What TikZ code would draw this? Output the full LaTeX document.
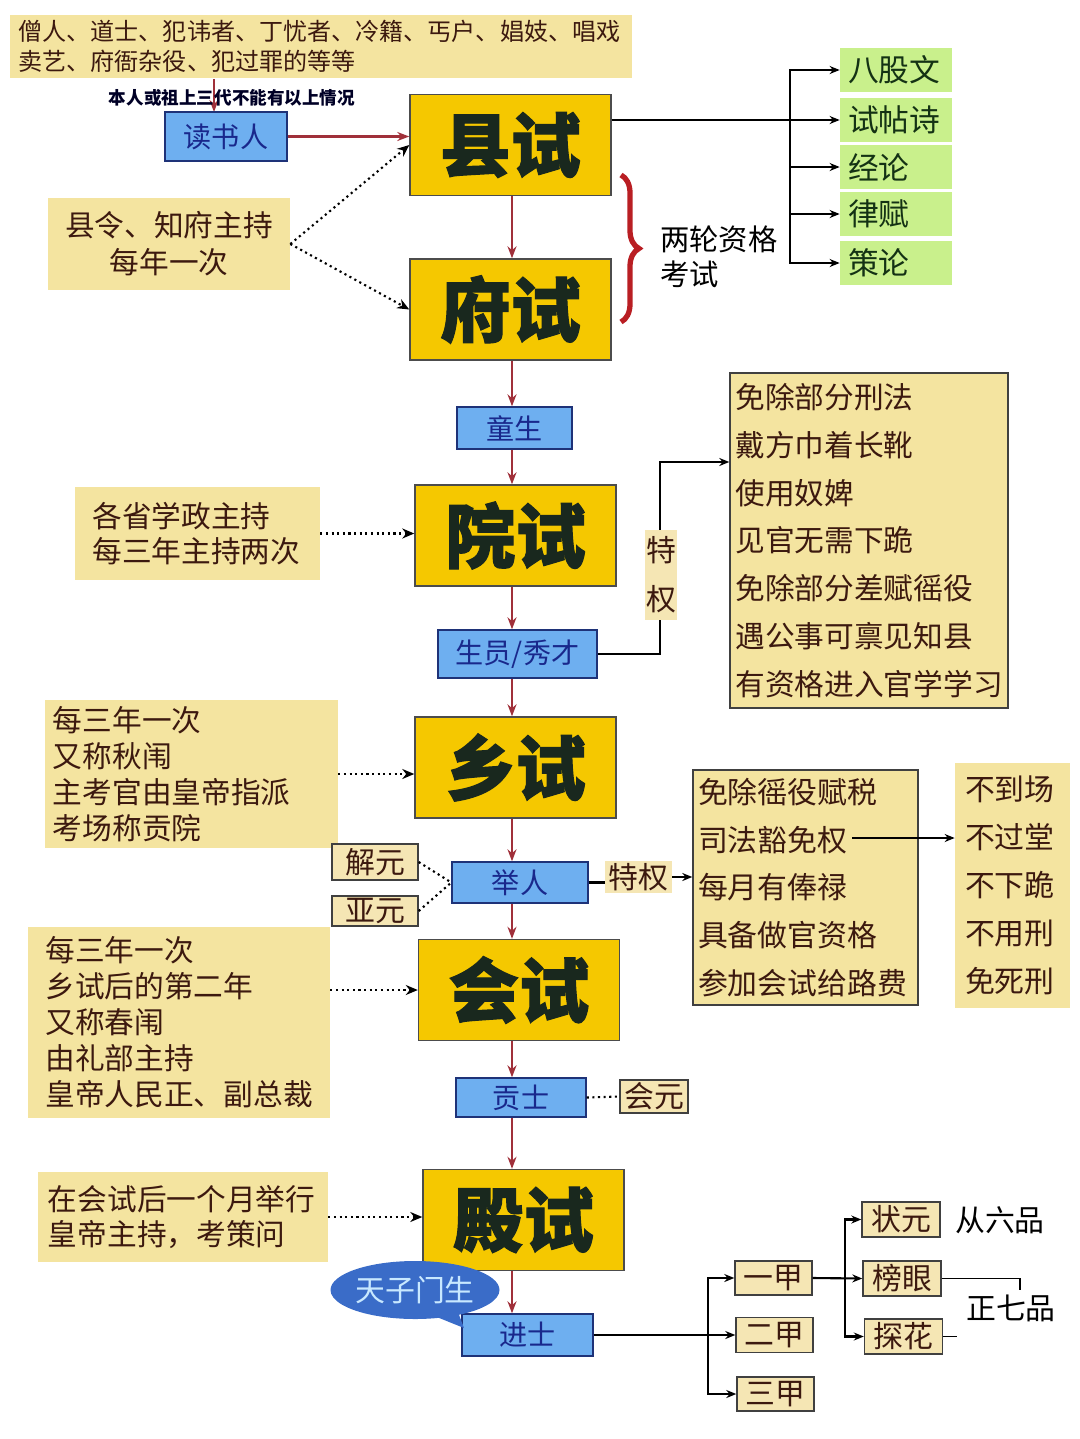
\documentclass[tikz,border=0pt]{standalone}
\usepackage{fontspec}
\setmainfont{Noto Sans CJK SC}
\newfontfamily\heavy[FakeBold=1.5]{Noto Sans CJK SC}
\usetikzlibrary{arrows.meta,decorations.pathreplacing,shapes.callouts}

\definecolor{examgold}{RGB}{245,200,0}
\definecolor{examtext}{RGB}{25,40,30}
\definecolor{notefill}{RGB}{244,228,160}
\definecolor{notetext}{RGB}{60,25,15}
\definecolor{tagfill}{RGB}{245,230,180}
\definecolor{degblue}{RGB}{110,175,240}
\definecolor{degline}{RGB}{30,50,120}
\definecolor{degtext}{RGB}{25,40,140}
\definecolor{subgreen}{RGB}{201,240,140}
\definecolor{subtext}{RGB}{20,50,20}
\definecolor{flowred}{RGB}{160,48,58}
\definecolor{bracered}{RGB}{185,30,35}
\definecolor{bubbleblue}{RGB}{58,108,200}
\definecolor{bubbletext}{RGB}{200,232,255}

\tikzstyle{exam}=[draw=black!70, line width=0.8pt, fill=examgold, minimum width=40.2mm, minimum height=20.2mm, text=examtext, font=\heavy\bfseries\fontsize{40}{44}\selectfont]
\tikzstyle{degree}=[draw=degline, line width=0.8pt, fill=degblue, text=degtext, inner sep=0pt, font=\fontsize{16}{18}\selectfont]
\tikzstyle{note}=[fill=notefill, text=notetext, align=left, font=\fontsize{16.9}{20.4}\selectfont]
\tikzstyle{privbox}=[draw=black!75, line width=0.8pt, fill=notefill, text=notetext, align=left, font=\fontsize{17}{27.2}\selectfont]
\tikzstyle{tagbox}=[draw=black!75, line width=0.8pt, fill=tagfill, text=notetext, inner sep=0pt, font=\fontsize{17}{20}\selectfont]
\tikzstyle{subject}=[fill=subgreen, text=subtext, text width=19.2mm, inner xsep=1.6mm, align=left, minimum height=8.8mm, font=\fontsize{17.5}{20}\selectfont]
\tikzstyle{flow}=[draw=flowred, line width=1.2pt, -{Stealth[length=2.4mm,width=1.8mm]}]
\tikzstyle{link}=[draw=black, line width=1.2pt]
\tikzstyle{linkarr}=[link, -{Stealth[length=2mm,width=1.6mm]}]
\tikzstyle{hint}=[draw=black, line width=1.2pt, dotted, -{Stealth[length=2.4mm,width=2mm]}]
\tikzstyle{hintline}=[draw=black, line width=1.2pt, dotted]

\begin{document}
\begin{tikzpicture}[x=0.2mm, y=-0.2mm]
\useasboundingbox (0,0) rectangle (1080,1439);
\coordinate (col) at (512,0);
% Who may sit
    \node[note, font=\fontsize{13.7}{17}\selectfont, text width=121mm, inner xsep=1.7mm, minimum height=12.6mm] (barred) at (321,46.5)
        {僧人、道士、犯讳者、丁忧者、冷籍、丐户、娼妓、唱戏\\卖艺、府衙杂役、犯过罪的等等};
    \draw[flow] (barred.south -| 214,0) -- (214,112);
    \node[text=black!85!blue, font=\bfseries\fontsize{10}{12}\selectfont] (rule) at (232,98) {本人或祖上三代不能有以上情况};
    \node[degree, minimum width=24.4mm, minimum height=9.8mm] (dushu) at (226,136.5) {读书人};
%Exams
    \node[exam] (xian) at (510.5,145) {县试};
    \node[exam] (fu) at (510.5,309.5) {府试};
    \node[exam] (yuan) at (515.5,535.5) {院试};
    \node[exam] (xiang) at (515.5,767.5) {乡试};
    \node[exam] (hui) at (519,990) {会试};
    \node[exam] (dian) at (523.5,1220) {殿试};
%Titles
    \node[degree, minimum width=23mm, minimum height=8.4mm] (tong) at (514.5,428) {童生};
    \node[degree, minimum width=31.8mm, minimum height=9.6mm] (sheng) at (517.5,654) {生员/秀才};
    \node[degree, minimum width=27.2mm, minimum height=8.2mm] (juren) at (520,882.5) {举人};
    \node[degree, minimum width=26mm, minimum height=7.8mm] (gong) at (521,1097.5) {贡士};
    \node[degree, minimum width=26.2mm, minimum height=8.4mm] (jin) at (527.5,1335) {进士};
%Main line
    \draw[flow] (dushu.east) -- (dushu.east -| xian.west);
    \draw[flow] (xian.south -| col) -- (fu.north -| col);
    \draw[flow] (fu.south -| col) -- (tong.north -| col);
    \draw[flow] (tong.south -| col) -- (yuan.north -| col);
    \draw[flow] (yuan.south -| col) -- (sheng.north -| col);
    \draw[flow] (sheng.south -| col) -- (xiang.north -| col);
    \draw[flow] (xiang.south -| col) -- (juren.north -| col);
    \draw[flow] (juren.south -| col) -- (hui.north -| col);
    \draw[flow] (hui.south -| col) -- (gong.north -| col);
    \draw[flow] (gong.south -| col) -- (dian.north -| col);
    \draw[flow] (dian.south -| col) -- (jin.north -| col);
%Notes on the left
    \node[note, align=center, font=\fontsize{16.9}{21}\selectfont, minimum width=48.4mm, minimum height=18.4mm] (xiannote) at (169,244) {县令、知府主持\\每年一次};
    \draw[hint] (xiannote.east) -- (xian.west);
    \draw[hint] (xiannote.east) -- (fu.west);
    \node[note, font=\fontsize{16.9}{19.8}\selectfont, text width=42mm, inner xsep=3.5mm, minimum height=18.6mm] (yuannote) at (197.5,533.5) {各省学政主持\\每三年主持两次};
    \draw[hint] (yuannote.east) -- (yuannote.east -| yuan.west);
    \node[note, text width=55.4mm, inner xsep=1.6mm, minimum height=29.6mm] (xiangnote) at (191.5,774) {每三年一次\\又称秋闱\\主考官由皇帝指派\\考场称贡院};
    \draw[hint] (xiangnote.east) -- (xiangnote.east -| xiang.west);
    \node[note, font=\fontsize{16.9}{20.5}\selectfont, text width=53.4mm, inner xsep=3.5mm, minimum height=38.2mm] (huinote) at (179,1022.5) {每三年一次\\乡试后的第二年\\又称春闱\\由礼部主持\\皇帝人民正、副总裁};
    \draw[hint] (huinote.east |- hui) -- (hui.west);
    \node[note, font=\fontsize{16.9}{19.8}\selectfont, text width=54mm, inner xsep=2mm, minimum height=18mm] (diannote) at (183,1217) {在会试后一个月举行\\皇帝主持，考策问};
    \draw[hint] (diannote.east) -- (diannote.east -| dian.west);
%Two qualifying rounds
    \draw[bracered, line width=3pt, decorate, decoration={brace, amplitude=3.6mm}] (621,175) -- (621,322);
    \node[anchor=west, align=left, font=\fontsize{16.7}{19.8}\selectfont] (rounds) at (654,257) {两轮资格\\考试};
%Subjects
    \node[subject] (bagu) at (896,70) {八股文};
    \node[subject] (shitie) at (896,120) {试帖诗};
    \node[subject] (jinglun) at (896,167) {经论};
    \node[subject] (lvfu) at (896,214) {律赋};
    \node[subject] (celun) at (896,263) {策论};
    \coordinate (fork1) at (790,120);
    \draw[linkarr] (xian.east |- shitie) -- (shitie.west);
    \draw[linkarr] (fork1) |- (bagu.west);
    \draw[linkarr] (fork1) |- (jinglun.west);
    \draw[linkarr] (fork1) |- (lvfu.west);
    \draw[linkarr] (fork1) |- (celun.west);
%Privileges of shengyuan
    \node[privbox, font=\fontsize{16.9}{27.2}\selectfont, text width=53.4mm, inner xsep=1.1mm, minimum height=67mm] (priv1) at (869,540.5)
        {免除部分刑法\\戴方巾着长靴\\使用奴婢\\见官无需下跪\\免除部分差赋徭役\\遇公事可禀见知县\\有资格进入官学学习};
    \coordinate (tq1) at (660,462);
    \draw[linkarr] (sheng.east) -| (tq1) -- (tq1 -| priv1.west);
    \node[fill=tagfill, text=notetext, inner sep=0pt, minimum width=6.4mm, minimum height=18mm, align=center, font=\fontsize{17}{28}\selectfont] (tequan1) at (661,575) {特\\权};
%Juren
    \node[tagbox, minimum width=17.2mm, minimum height=7.2mm] (jieyuan) at (375,862) {解元};
    \node[tagbox, minimum width=17.2mm, minimum height=6mm] (yayuan) at (375,911) {亚元};
    \draw[hintline] (jieyuan.east) -- (juren.west);
    \draw[hintline] (yayuan.east) -- (juren.west);
    \node[fill=tagfill, text=notetext, inner sep=0pt, minimum width=13.4mm, minimum height=6.4mm, font=\fontsize{17}{20}\selectfont] (tequan2) at (638.5,877) {特权};
    \node[privbox, text width=43mm, inner xsep=1mm, minimum height=47mm] (priv2) at (805.5,887.5)
        {免除徭役赋税\\司法豁免权\\每月有俸禄\\具备做官资格\\参加会试给路费};
    \draw[link] (juren.east) -- (juren.east -| tequan2.west);
    \draw[linkarr] (tequan2.east) -- (tequan2.east -| priv2.west);
    \node[fill=notefill, text=notetext, align=left, font=\fontsize{17}{27.4}\selectfont, text width=19mm, inner xsep=2mm, minimum height=49mm] (immune) at (1012.5,885.5)
        {不到场\\不过堂\\不下跪\\不用刑\\免死刑};
    \coordinate (sifa) at (852,838);
    \draw[linkarr] (sifa) -- (sifa -| immune.west);
%Gongshi
    \node[tagbox, minimum width=13.6mm, minimum height=6.6mm] (huiyuan) at (654,1096.5) {会元};
    \draw[hintline] (gong.east) -- (huiyuan.west);
%Jinshi
    \node[ellipse callout, fill=bubbleblue, text=bubbletext, minimum width=28mm, minimum height=11.6mm, inner sep=0pt, font=\fontsize{17}{20}\selectfont, callout absolute pointer={(464,1328)}] (tianzi) at (415,1290) {天子门生};
    \node[tagbox, minimum width=15.4mm, minimum height=6.8mm] (jia1) at (773.5,1278) {一甲};
    \node[tagbox, minimum width=15.4mm, minimum height=7mm] (jia2) at (774.5,1335) {二甲};
    \node[tagbox, minimum width=15.4mm, minimum height=6.8mm] (jia3) at (775.5,1394) {三甲};
    \coordinate (fork2) at (708,1335);
    \draw[linkarr] (jin.east) -- (jia2.west);
    \draw[linkarr] (fork2) |- (jia1.west);
    \draw[linkarr] (fork2) |- (jia3.west);
    \node[tagbox, minimum width=15.6mm, minimum height=7mm] (zhuang) at (901,1219.5) {状元};
    \node[tagbox, minimum width=15.6mm, minimum height=7mm] (bang) at (902,1278.5) {榜眼};
    \node[tagbox, minimum width=15.6mm, minimum height=7mm] (tan) at (903.5,1336.5) {探花};
    \coordinate (fork3) at (845,1278);
    \draw[linkarr] (jia1.east) -- (bang.west);
    \draw[linkarr] (fork3) |- (zhuang.west);
    \draw[linkarr] (fork3) |- (tan.west);
    \node[font=\fontsize{17}{20}\selectfont] (rank6) at (1000,1220) {从六品};
    \node[font=\fontsize{17}{20}\selectfont] (rank7) at (1011,1308) {正七品};
    \draw[line width=0.8pt] (bang.east) -| (1020,1290);
    \draw[line width=0.8pt] (tan.east) -- ++(14,0);
\end{tikzpicture}
\end{document}
